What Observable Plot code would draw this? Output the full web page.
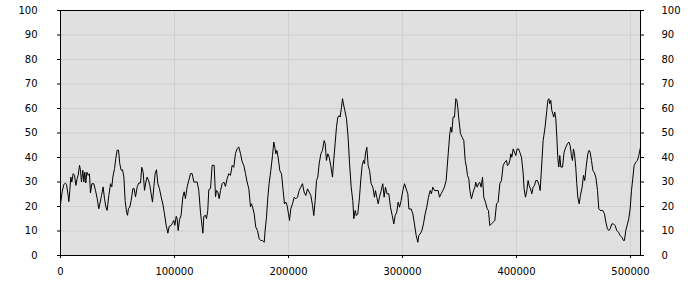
<!DOCTYPE html>
<html>
<head>
<meta charset="utf-8">
<script src="https://cdn.jsdelivr.net/npm/d3@7"></script>
<script src="https://cdn.jsdelivr.net/npm/@observablehq/plot@0.6"></script>
<style>
  html, body { margin: 0; padding: 0; background: #ffffff; }
  #chart svg { display: block; }
</style>
</head>
<body>
<div id="chart"></div>
<script>
// positions in thousands of units along x
const posK = [
  0,1.46,2.92,4.39,5.26,6.73,7.31,8.19,9.06,9.94,11.1,12.3,13.5,14.6,15.5,16.7,17.5,18.4,19.6,20.5,
  21.3,22.2,23.1,24.3,25.4,26.3,27.5,29.2,30.7,32.2,33.6,34.5,36.0,37.4,38.6,39.8,40.9,42.4,43.9,45.0,
  45.9,47.4,48.5,49.7,50.9,52.0,53.2,54.4,55.6,56.7,57.9,58.8,59.6,60.8,62.0,63.5,64.6,65.8,67.3,68.7,
  70.2,71.3,72.5,73.7,74.9,76.0,77.2,78.4,79.5,80.7,81.9,83.0,84.2,85.4,86.8,88.3,89.8,91.2,92.7,94.2,
  95.3,97.1,98.2,99.4,100.3,101.5,102.3,103.2,104.4,105.8,107.3,108.5,109.6,111.1,112.6,114.0,115.5,117.0,119.9,121.3,
  122.8,124.3,124.9,125.7,127.2,128.1,129.2,130.1,131.6,133.0,134.8,136.0,136.8,138.0,139.2,140.4,141.8,143.3,144.7,146.2,
  147.7,149.1,150.6,152.0,153.5,155.0,156.4,157.9,159.4,160.8,162.3,163.7,165.2,166.7,167.5,
  168.4,169.9,171.3,172.8,174.3,175.7,177.2,178.7,179.5,180.7,181.9,183.0,184.5,186.0,187.1,188.0,188.9,189.8,190.9,192.4,
  193.9,195.3,196.5,197.7,198.8,200.0,200.9,202.0,203.5,205.0,206.4,207.9,209.4,210.8,212.3,213.7,215.2,216.7,218.1,219.6,
  221.1,222.2,223.4,224.6,225.7,226.9,228.4,229.8,231.3,232.2,233.3,234.5,235.7,237.1,238.6,239.8,240.9,242.1,243.3,244.4,
  245.3,246.5,247.4,248.2,249.4,250.9,252.3,
  253.5,255.0,256.4,257.3,258.5,259.5,260.8,262.3,263.5,264.6,265.8,266.7,267.5,268.7,269.9,271.1,272.5,274.0,275.4,276.3,
  277.5,278.7,279.8,281.3,282.7,283.9,285.1,286.3,288.0,289.5,291.0,292.4,293.6,295.0,296.2,297.4,298.8,300.3,301.8,303.2,
  304.7,305.6,307.6,309.1,310.5,312.0,313.5,314.3,315.5,317.0,318.4,319.9,321.3,322.8,324.3,325.4,326.6,328.1,329.5,331.3,
  332.5,333.9,335.4,336.8,338.3,
  340.1,341.5,342.4,343.3,344.4,345.6,346.8,347.7,348.5,349.4,350.9,352.3,353.8,355.0,356.1,357.0,358.2,359.1,360.5,362.0,
  363.5,364.3,365.5,366.7,367.8,369.0,370.2,371.3,372.8,374.3,375.4,376.6,378.1,379.5,381.0,382.5,383.9,385.4,386.8,388.3,
  389.8,391.2,392.1,393.3,394.2,395.0,395.9,397.1,398.2,399.4,400.6,401.8,402.9,404.4,405.8,406.7,407.9,409.1,410.2,411.1,
  412.3,413.5,414.6,415.8,417.0,418.4,419.9,420.8,422.0,423.4,
  425.1,426.6,427.5,428.4,429.2,430.1,431.0,431.9,432.7,433.6,434.5,435.4,436.3,437.1,438.0,438.9,440.4,441.8,443.3,444.7,
  445.9,447.1,448.2,449.1,450.0,450.9,452.0,452.9,453.8,455.0,456.1,457.6,458.8,459.9,461.1,462.6,463.7,464.6,465.8,467.0,
  468.1,469.6,471.1,472.2,473.4,475.7,477.2,478.4,479.8,481.0,482.2,483.6,485.1,486.5,488.0,489.5,490.9,492.4,493.9,494.7,
  495.9,497.4,498.5,499.7,500.9,502.0,503.2,504.7,506.1,507.3,508.8
];
const values = [
  21,26,29,29.5,29,24.5,22,26.6,32,30,33.4,32.7,28.6,31.4,32.7,36.8,34.8,30,34.8,30,
  34,29.6,34,32.7,33.4,25.5,29.3,29.3,26.6,23.2,19.1,21,24.5,28,23.2,19.8,18.4,24.5,29.3,28,
  32,35.5,39.6,43,43,37.5,34.8,35,32,22.5,17.7,16.4,19.1,19.8,22.5,27.3,27.3,23.9,28,29.6,
  29.6,36,34,26.6,30,32,30.7,28.6,25.2,21.8,28,33.4,35,29.3,27.3,23.9,21,17,12.3,9.1,
  11.9,12.3,13.2,14.3,12.3,16,15,10.2,14.6,16.4,23.9,26,23.2,28,30.7,33.4,33.4,30,30,26.6,
  17.7,11.6,9.1,16,16.4,15,18.4,26.9,27.3,36.8,36.8,23.9,26.6,26,23.2,26.6,29.3,30,28.2,31.4,
  33.4,32.7,36.8,36,41.6,43.6,44.3,41.6,38.2,36.8,33.4,30,27.3,19.8,21.1,
  20,17,11.6,10.2,6.8,6.1,6.1,5.4,10.2,15.6,23.8,29.3,34.7,40.8,46.3,44.2,41.5,42.9,40.1,34.7,
  33.3,26.5,21.1,21.8,20.4,17,14.3,19,21.1,23.8,23.1,23.8,26.5,27.9,29.3,25.9,24.5,27.2,25.9,24.5,
  20.4,16.3,22.4,30.6,32,37.4,41.5,42.9,46.9,45.6,38.8,41.5,40.1,36.7,32,39.5,45.6,52.4,56.5,57.1,
  56.5,60.5,64,61.9,59.2,55.8,48.3,
  38.1,27.9,22.4,15,18.4,16.3,17,23.8,31.3,36.7,38.8,37.4,41.5,44.2,36.7,34.7,29.3,27.9,23.8,26.5,
  23.8,21.1,23.8,26.5,29.3,23.8,27.9,25.2,25.2,19.7,16.3,12.9,16.3,17.7,21.8,19.7,22.4,26.5,29.3,27.2,
  25.2,19,19,17,12.9,8.2,5.4,8.2,8.8,10.2,12.9,17,19.7,23.8,26.5,25.2,27.9,26.5,26.5,26.5,
  23.8,25.2,26.5,27.9,30.6,
  41.5,49.7,52.4,50.3,56.5,56.5,64,63.3,60.5,55.8,49.7,48.3,46.9,38.8,36.1,32.7,31.3,26.5,23.1,25.9,
  27.9,29.9,27.9,29.3,29.9,27.9,32,23.8,21.8,19,18.4,12.2,12.9,13.6,14.3,21.1,21.8,29.3,30.6,36.7,
  38.1,38.8,36.7,37.4,38.8,41.5,40.1,43.5,42.2,40.8,43.5,43.5,42.2,40.1,34,27.2,23.8,26.5,30.6,28.6,
  27.2,25.2,27.9,28.6,30.6,30.6,28.6,26.5,36.1,46.9,
  52.4,59.2,63.3,64,61.9,63.3,59.2,57.8,56.5,58.5,55.8,48.3,39.5,36.1,40.8,36.1,36.1,42.2,44.2,45.6,
  46.3,44.9,40.8,38.8,43.5,41.5,36.1,29.3,23.8,21.1,24.5,27.9,32.7,30.6,36.1,41.5,42.9,42.2,38.8,34.7,
  34,32,26.5,19,18.4,18.4,17,13.6,10.9,10.2,10.9,12.9,12.9,12.2,10.2,9.5,8.2,7.5,6.1,6.1,
  10.2,12.9,15,19,26.5,31.3,36.7,38.1,38.8,40.8,44.2
];
const yTicks = [0,10,20,30,40,50,60,70,80,90,100];
const xTicks = [0,100000,200000,300000,400000,500000];

const data = posK.map((k, i) => ({x: k * 1000, y: values[i]}));

const chart = Plot.plot({
  width: 700,
  height: 300,
  marginLeft: 60,
  marginRight: 60,
  marginTop: 10,
  marginBottom: 45,
  style: {fontFamily: "'DejaVu Sans', Verdana, sans-serif", fontSize: "10px", color: "#000", background: "#fff"},
  x: {domain: [0, d3.max(posK) * 1000], nice: false},
  y: {domain: [0, 100]},
  marks: [
    Plot.frame({fill: "#e0e0e0", stroke: null}),
    Plot.gridY(yTicks.slice(1, -1), {stroke: "#cfcfcf", strokeOpacity: 1, strokeWidth: 1}),
    Plot.gridX(xTicks.slice(1), {stroke: "#cfcfcf", strokeOpacity: 1, strokeWidth: 1}),
    Plot.line(data, {x: "x", y: "y", stroke: "#000", strokeWidth: 1}),
    Plot.frame({stroke: "#000", strokeWidth: 1}),
    Plot.axisY(yTicks, {anchor: "left", tickSize: 3, tickPadding: 20, label: null, fill: "#000", stroke: "#000"}),
    Plot.axisY(yTicks, {anchor: "right", tickSize: 3, tickPadding: 18, label: null, fill: "#000", stroke: "#000"}),
    Plot.axisX(xTicks, {anchor: "bottom", tickSize: 3, tickPadding: 9, label: null, fill: "#000", stroke: "#000", tickFormat: d => String(d)})
  ]
});
document.getElementById("chart").appendChild(chart);
</script>
</body>
</html>
